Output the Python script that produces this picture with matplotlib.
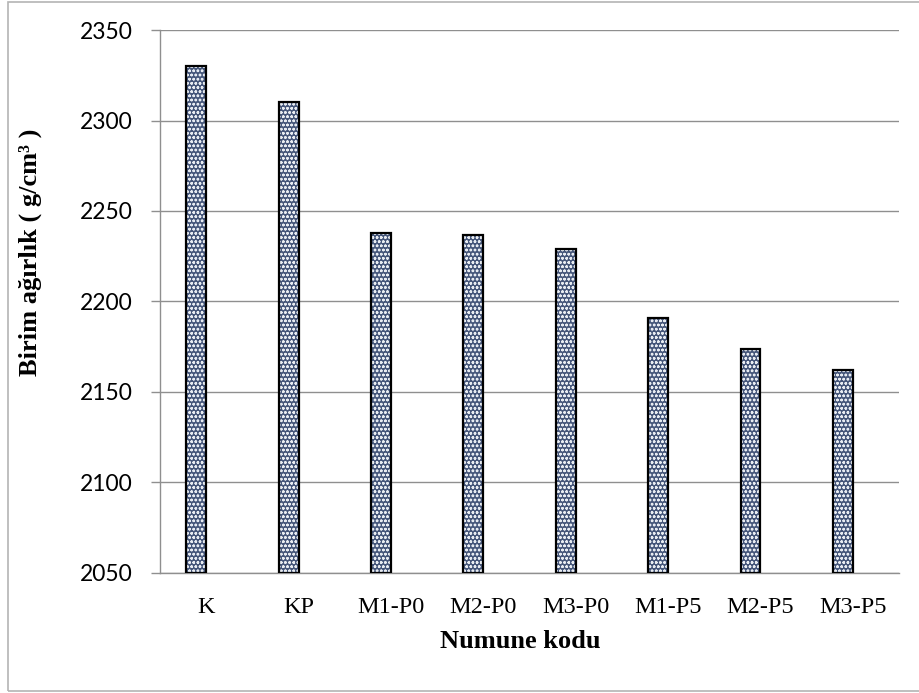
import numpy as np
import matplotlib.pyplot as plt
from matplotlib.patches import Rectangle

# Birim ağırlık değerleri (numune koduna göre)
numuneler = ['K', 'KP', 'M1-P0', 'M2-P0', 'M3-P0', 'M1-P5', 'M2-P5', 'M3-P5']
birim_agirlik = [2330, 2310, 2238, 2237, 2229, 2191, 2174, 2162]
y_ticks = [2050, 2100, 2150, 2200, 2250, 2300, 2350]

grid_renk = '#8f8f8f'
plt.rcParams['hatch.linewidth'] = 0.7

fig = plt.figure(figsize=(9.2, 6.93), dpi=100)
ax = fig.add_axes([0.1739, 0.1732, 0.8033, 0.7835])

x = np.arange(len(numuneler))
genislik = 0.216
konum = x - genislik / 2

ax.set_axisbelow(True)
ax.yaxis.grid(True, color=grid_renk, linewidth=1.0)

# desenli dolgu + siyah kenar
ax.bar(konum, [v - 2050 for v in birim_agirlik], width=genislik, bottom=2050,
       color='#45567a', edgecolor='#e8ecf2', hatch='oooo', linewidth=0, zorder=2)
ax.bar(konum, [v - 2050 for v in birim_agirlik], width=genislik, bottom=2050,
       fill=False, edgecolor='black', linewidth=1.6, zorder=3)

ax.set_xlim(-0.5, len(numuneler) - 0.5)
ax.set_ylim(2050, 2350)
ax.set_yticks(y_ticks)
ax.set_xticks(x)
ax.set_xticklabels(numuneler, fontfamily='Liberation Serif', fontsize=17.5)
for t in ax.get_yticklabels():
    t.set_fontfamily('Lato')
    t.set_fontsize(16.5)

ax.tick_params(axis='y', length=6.5, width=1.0, color=grid_renk, pad=13)
ax.tick_params(axis='x', length=0, pad=17)

for s in ['top', 'right']:
    ax.spines[s].set_visible(False)
for s in ['left', 'bottom']:
    ax.spines[s].set_color(grid_renk)
    ax.spines[s].set_linewidth(1.0)

fig.text(0.5652, 1 - 642 / 693, 'Numune kodu', ha='center', va='center',
         fontfamily='Liberation Serif', fontweight='bold', fontsize=19)
fig.text(30 / 920, 1 - 252 / 693, 'Birim ağırlık ( g/cm³ )', ha='center', va='center',
         rotation=90, fontfamily='Liberation Serif', fontweight='bold', fontsize=19)

# dış çerçeve
fig.patches.append(Rectangle((8 / 920, 2 / 693), 1.0, 689 / 693, transform=fig.transFigure,
                             fill=False, edgecolor='#b4b4b4', linewidth=1.2))

fig.savefig('out.png', dpi=100)
